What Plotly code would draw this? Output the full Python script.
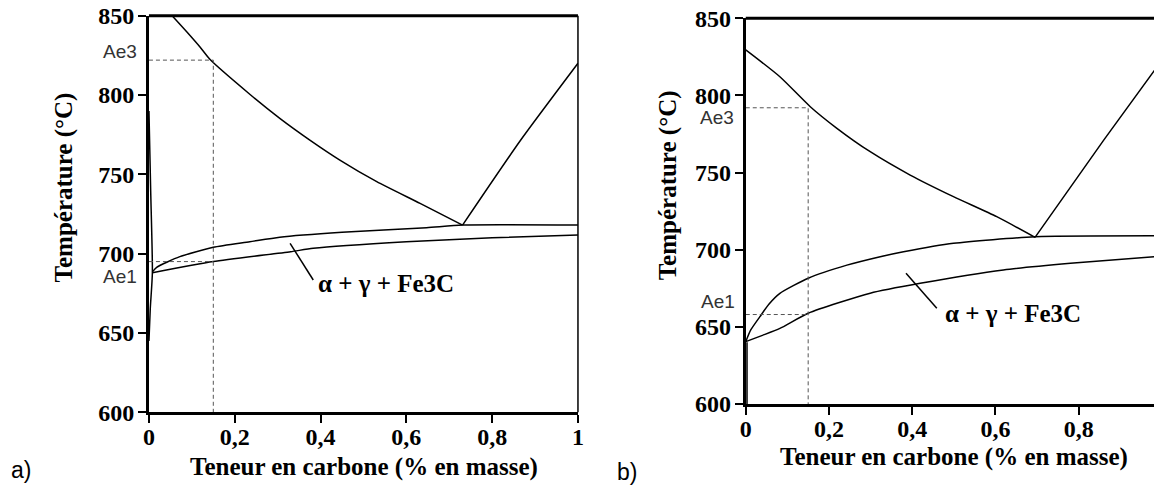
import plotly.graph_objects as go

# --- data (carbon wt%, temperature °C) ---
x_ticks = [0, 0.2, 0.4, 0.6, 0.8, 1]
x_ticktext = ["0", "0,2", "0,4", "0,6", "0,8", "1"]
y_ticks = [600, 650, 700, 750, 800, 850]

# panel a)
a_ae3_c = [0.054, 0.088, 0.119, 0.142, 0.235, 0.305, 0.375, 0.445, 0.531, 0.632, 0.731]
a_ae3_T = [850, 839.9, 830.3, 822.5, 800.5, 785.3, 771.6, 759, 745.4, 731.7, 718]
a_acm_c = [0.731, 0.865, 1.0]
a_acm_T = [718, 771, 820]
a_a1u_c = [0.008, 0.018, 0.072, 0.15, 0.235, 0.305, 0.45, 0.647, 0.731, 1.0]
a_a1u_T = [688.5, 691.4, 698.1, 704, 707.5, 710.4, 713.5, 716.4, 718, 718]
a_a1l_c = [0.008, 0.15, 0.33, 0.383, 0.6, 0.8, 1.0]
a_a1l_T = [688, 695, 701.2, 703.4, 707.5, 710, 711.8]
a_fer_c = [0.0, 0.004, 0.008, 0.003, 0.0]
a_fer_T = [790, 740, 688, 665, 645]
a_c0, a_ae3, a_ae1 = 0.15, 822, 695
a_lead_c, a_lead_T = [0.329, 0.383], [706.5, 683.4]

# panel b)
b_ae3_c = [0.0, 0.082, 0.155, 0.219, 0.299, 0.395, 0.499, 0.603, 0.695]
b_ae3_T = [829.5, 812.1, 792.7, 778.7, 763.5, 748.4, 734.4, 721.4, 708]
b_acm_c = [0.695, 0.86, 1.0]
b_acm_T = [708, 771, 823]
b_a1u_c = [0.0, 0.012, 0.034, 0.055, 0.082, 0.15, 0.243, 0.323, 0.379, 0.499, 0.695, 1.0]
b_a1u_T = [640.4, 648, 656.6, 664.5, 671.7, 681.5, 690, 695.5, 698.7, 704.2, 708.4, 709]
b_a1l_c = [0.0, 0.04, 0.082, 0.15, 0.299, 0.419, 0.619, 0.78, 1.0]
b_a1l_T = [640.4, 644.5, 649, 658.8, 671.8, 678.2, 686.9, 691.2, 695.9]
b_fer_c = [0.003, 0.003]
b_fer_T = [640, 600]
b_c0, b_ae3, b_ae1 = 0.15, 792, 658
b_lead_c, b_lead_T = [0.385, 0.459], [684.7, 662]

SERIF = "Liberation Serif"
SANS = "Liberation Sans"
LINE = dict(color="black", width=1.5)
DASH = dict(color="#555", width=1, dash="4px,3px")

fig = go.Figure()

def add_panel(xa, ya, curves, c0, ae3, ae1, lead_c, lead_T):
    for c, t in curves:
        fig.add_trace(go.Scatter(x=c, y=t, mode="lines", line=dict(LINE, shape="spline", smoothing=0.6),
                                 xaxis=xa, yaxis=ya, showlegend=False, hoverinfo="skip"))
    fig.add_trace(go.Scatter(x=[0, c0, c0], y=[ae3, ae3, 600], mode="lines", line=DASH,
                             xaxis=xa, yaxis=ya, showlegend=False, hoverinfo="skip"))
    fig.add_trace(go.Scatter(x=[0, c0], y=[ae1, ae1], mode="lines", line=DASH,
                             xaxis=xa, yaxis=ya, showlegend=False, hoverinfo="skip"))
    fig.add_trace(go.Scatter(x=lead_c, y=lead_T, mode="lines", line=LINE,
                             xaxis=xa, yaxis=ya, showlegend=False, hoverinfo="skip"))

add_panel("x", "y",
          [(a_ae3_c, a_ae3_T), (a_acm_c, a_acm_T), (a_a1u_c, a_a1u_T), (a_a1l_c, a_a1l_T), (a_fer_c, a_fer_T)],
          a_c0, a_ae3, a_ae1, a_lead_c, a_lead_T)
add_panel("x2", "y2",
          [(b_ae3_c, b_ae3_T), (b_acm_c, b_acm_T), (b_a1u_c, b_a1u_T), (b_a1l_c, b_a1l_T), (b_fer_c, b_fer_T)],
          b_c0, b_ae3, b_ae1, b_lead_c, b_lead_T)

tfont = dict(family=SERIF, size=24, color="black", weight="bold")
xax = dict(range=[0, 1], tickvals=x_ticks, ticktext=x_ticktext, showgrid=False, zeroline=False,
           automargin=False, showline=True, linewidth=3, linecolor="black", ticks="outside",
           ticklen=8, tickwidth=2, tickcolor="black", ticklabelstandoff=-7, tickfont=tfont,
           ticklabeloverflow="allow")
yax = dict(range=[600, 850], tickvals=y_ticks, showgrid=False, zeroline=False, automargin=False,
           showline=True, linewidth=3, linecolor="black", ticks="outside", ticklen=8, tickwidth=2,
           tickcolor="black", ticklabelstandoff=-1, tickfont=tfont, ticklabeloverflow="allow")

# the page body adds an 8px offset, so domains are shifted by that amount
fig.update_layout(
    width=1162, height=492, margin=dict(l=0, r=0, t=0, b=0),
    paper_bgcolor="white", plot_bgcolor="white",
    xaxis=dict(xax, domain=[0.1213, 0.4905], anchor="y"),
    yaxis=dict(yax, domain=[0.1783, 0.9843], anchor="x"),
    xaxis2=dict(xax, domain=[0.6349, 0.9931], anchor="y2"),
    yaxis2=dict(yax, domain=[0.1951, 0.9791], anchor="x2"),
)

# top and right frame lines
for xa, ya in (("x", "y"), ("x2", "y2")):
    fig.add_shape(type="line", xref=xa + " domain", yref=ya + " domain", x0=0, x1=1, y0=1, y1=1,
                  line=dict(color="black", width=3))
    fig.add_shape(type="line", xref=xa + " domain", yref=ya + " domain", x0=1, x1=1, y0=0, y1=1,
                  line=dict(color="black", width=1.5))

ann_font = dict(family=SERIF, size=25, color="black", weight="bold")
lab_font = dict(family=SANS, size=19, color="#333")
phase_font = dict(family=SERIF, size=25, color="black", weight="bold")
C = dict(xref="paper", yref="paper", xanchor="center", yanchor="middle", showarrow=False)
anns = [
    # axis titles
    dict(C, text="Teneur en carbone (% en masse)", x=0.3064, y=0.0677, font=ann_font),
    dict(C, text="Teneur en carbone (% en masse)", x=0.8141, y=0.088, font=ann_font),
    dict(C, text="Température (°C)", x=0.049, y=0.6352, textangle=-90, font=ann_font),
    dict(C, text="Température (°C)", x=0.5682, y=0.6402, textangle=-90, font=ann_font),
    # panel letters
    dict(C, text="a)", x=0.0116, y=0.061, font=dict(family=SANS, size=23, color="black")),
    dict(C, text="b)", x=0.5331, y=0.0575, font=dict(family=SANS, size=23, color="black")),
    # phase labels
    dict(text="α + γ + Fe3C", x=0.39, y=681.3, xref="x", yref="y", xanchor="left", yanchor="middle",
         showarrow=False, font=phase_font),
    dict(text="α + γ + Fe3C", x=0.475, y=658.8, xref="x2", yref="y2", xanchor="left", yanchor="middle",
         showarrow=False, font=phase_font),
    # Ae labels
    dict(text="Ae3", x=0, y=a_ae3, xref="x", yref="y", xanchor="right", yanchor="middle", yshift=9,
         xshift=-10, showarrow=False, font=lab_font),
    dict(text="Ae1", x=0, y=a_ae1, xref="x", yref="y", xanchor="right", yanchor="middle", yshift=-15,
         xshift=-10, showarrow=False, font=lab_font),
    dict(text="Ae3", x=0, y=b_ae3, xref="x2", yref="y2", xanchor="right", yanchor="middle", yshift=-10,
         xshift=-10, showarrow=False, font=lab_font),
    dict(text="Ae1", x=0, y=b_ae1, xref="x2", yref="y2", xanchor="right", yanchor="middle", yshift=13,
         xshift=-9, showarrow=False, font=lab_font),
]
fig.update_layout(annotations=anns)

fig.write_html("out.html")
